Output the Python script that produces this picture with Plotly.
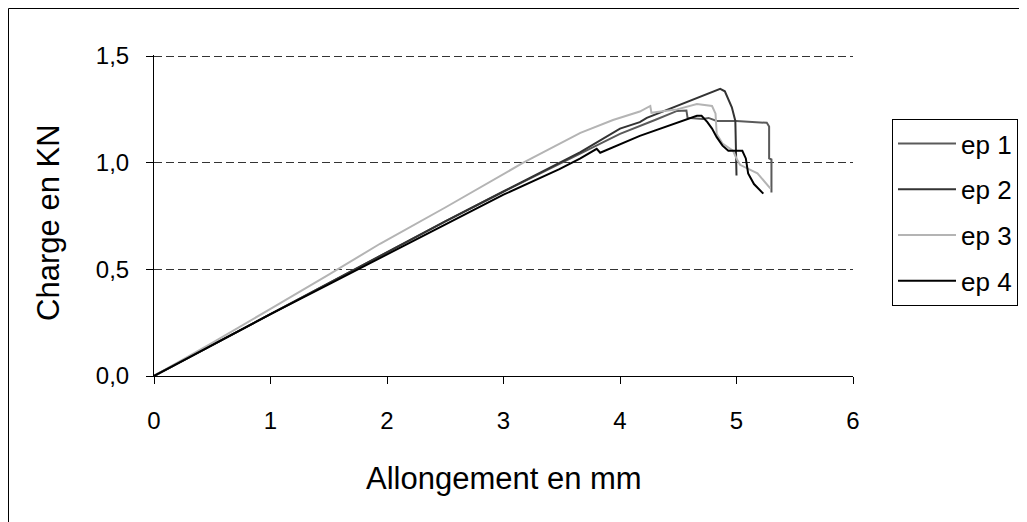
import plotly.graph_objects as go

# ---- data ----
ep1_x = [0, 0.5, 1, 1.5, 2, 2.5, 3, 3.5, 4, 4.3, 4.49, 4.57, 4.58, 4.71, 4.76, 4.83, 5.0, 5.26, 5.28, 5.28, 5.30, 5.30]
ep1_y = [0, 0.145, 0.29, 0.435, 0.58, 0.725, 0.865, 1.0, 1.135, 1.2, 1.243, 1.245, 1.21, 1.205, 1.21, 1.196, 1.195, 1.187, 1.17, 1.02, 1.015, 0.86]

ep2_x = [0, 0.5, 1, 1.5, 2, 2.5, 3, 3.49, 3.66, 4.0, 4.17, 4.23, 4.51, 4.75, 4.86, 4.9, 4.93, 4.96, 4.99, 5.0]
ep2_y = [0, 0.145, 0.29, 0.435, 0.58, 0.725, 0.865, 1.0, 1.05, 1.16, 1.19, 1.21, 1.27, 1.32, 1.346, 1.335, 1.30, 1.26, 1.196, 0.94]

ep3_x = [0, 0.5, 1, 1.5, 1.94, 2.5, 3.17, 3.48, 3.66, 3.94, 4.17, 4.26, 4.27, 4.35, 4.49, 4.66, 4.79, 4.82, 4.83, 4.88, 4.97, 5.0, 5.03, 5.18, 5.29]
ep3_y = [0, 0.155, 0.315, 0.475, 0.62, 0.79, 1.0, 1.09, 1.14, 1.20, 1.24, 1.266, 1.234, 1.24, 1.25, 1.275, 1.266, 1.23, 1.135, 1.09, 1.056, 1.02, 0.99, 0.95, 0.88]

ep4_x = [0, 0.5, 1, 1.5, 2, 2.5, 3, 3.48, 3.66, 3.80, 3.83, 4.17, 4.4, 4.66, 4.7, 4.75, 4.79, 4.83, 4.88, 4.93, 5.05, 5.08, 5.10, 5.15, 5.23]
ep4_y = [0, 0.145, 0.29, 0.43, 0.57, 0.71, 0.85, 0.97, 1.02, 1.065, 1.047, 1.126, 1.17, 1.22, 1.22, 1.19, 1.16, 1.12, 1.08, 1.056, 1.056, 1.02, 0.95, 0.90, 0.855]

series_names = ["ep 1", "ep 2", "ep 3", "ep 4"]
series_colors = ["#5a5a5a", "#333333", "#b4b4b4", "#000000"]

x_ticks = [0, 1, 2, 3, 4, 5, 6]
y_ticks = [0, 0.5, 1.0, 1.5]

x_title = "Allongement en mm"
y_title = "Charge en KN"

FONT = "Liberation Sans, Arial, sans-serif"

W, H = 1019, 514
L, R, T, B = 146, 174, 47, 146
PW, PH = W - L - R, H - T - B

fig = go.Figure()
for name, xs, ys, col in zip(series_names, [ep1_x, ep2_x, ep3_x, ep4_x],
                             [ep1_y, ep2_y, ep3_y, ep4_y], series_colors):
    fig.add_trace(go.Scatter(x=xs, y=ys, mode="lines", name=name, legendgroup=name,
                             line=dict(color=col, width=2)))

fig.update_layout(
    width=W, height=H,
    margin=dict(l=L, r=R, t=T, b=B, autoexpand=False),
    paper_bgcolor="white", plot_bgcolor="white",
    separators=", ",
    font=dict(family=FONT, size=24, color="black"),
    showlegend=True,
    legend=dict(x=(884 - L) / PW, y=(T + PH - 111) / PH, xanchor="left", yanchor="top",
                bordercolor="black", borderwidth=1, bgcolor="white",
                font=dict(size=26), tracegroupgap=9, itemwidth=58),
    xaxis=dict(range=[0, 6], tickvals=x_ticks, showgrid=False, zeroline=False,
               showline=True, linecolor="black", linewidth=1,
               ticks="outside", ticklen=7, tickcolor="black",
               ticklabelstandoff=16, tickfont=dict(size=24)),
    yaxis=dict(range=[0, 1.505], tickvals=y_ticks, tickformat=".1f",
               showgrid=True, gridcolor="#333333", griddash="8px,4px", gridwidth=1,
               zeroline=False, showline=True, linecolor="black", linewidth=1,
               ticks="outside", ticklen=7, tickcolor="black",
               ticklabelstandoff=12, tickfont=dict(size=24)),
    annotations=[
        dict(text=x_title, xref="paper", yref="paper", x=0.5, y=-0.318,
             xanchor="center", yanchor="middle", showarrow=False,
             font=dict(size=31, family=FONT)),
        dict(text=y_title, xref="paper", yref="paper", x=(41 - L) / PW, y=0.477,
             xanchor="center", yanchor="middle", textangle=-90, showarrow=False,
             font=dict(size=31, family=FONT)),
    ],
    shapes=[
        dict(type="rect", xref="paper", yref="paper",
             x0=(0.5 - L) / PW, x1=(W + 20 - L) / PW,
             y0=-(B + 20) / PH, y1=(T + PH - 0.5) / PH,
             line=dict(color="black", width=1), fillcolor="rgba(0,0,0,0)", layer="below"),
    ],
)

fig.write_html("out.html")
